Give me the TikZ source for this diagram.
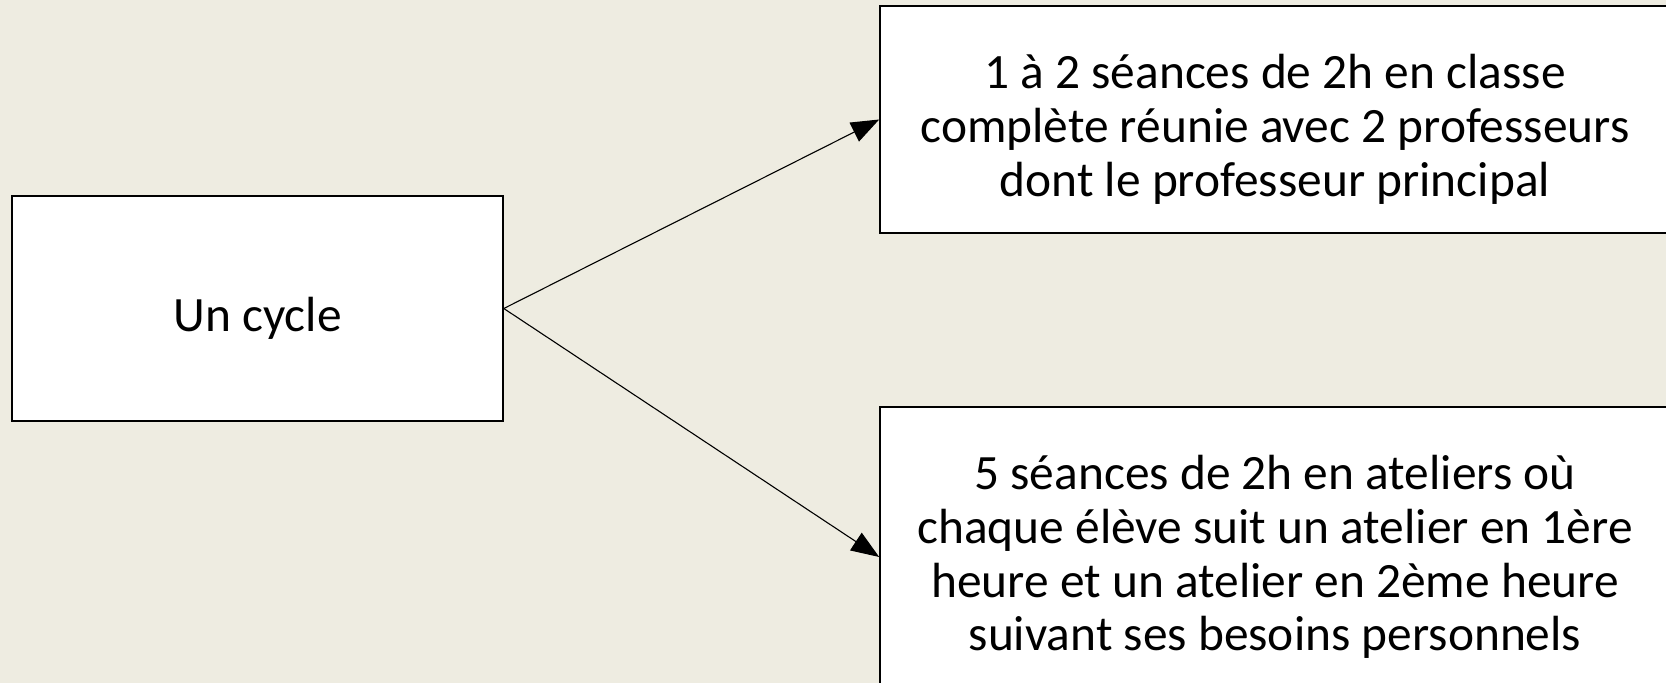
\documentclass[tikz,border=0pt]{standalone}
\usepackage{fontspec}
\setmainfont{Carlito}
\usetikzlibrary{arrows.meta}

\definecolor{slidebg}{RGB}{238,236,225}
% strut that lowers the text block inside its box
\newcommand{\lowerby}[1]{\rule{0pt}{\dimexpr 17pt+#1+#1\relax}}

\tikzset{
  box/.style={draw=black, line width=0.8pt, fill=white, align=center,
    font=\fontsize{24.7}{26.9}\selectfont, inner sep=0pt},
  link/.style={line width=0.55pt, -{Triangle[length=14pt, width=10.5pt]}}
}

\begin{document}
\begin{tikzpicture}[x=0.5pt, y=-0.5pt]
  % Background
  \fill[slidebg] (0,0) rectangle (1666,683);
  \useasboundingbox (0,0) rectangle (1666,683);

  % Boxes
  \node[box, minimum width=245.5pt, minimum height=112.5pt] (cycle) at (257.5,308.5)
    {\lowerby{5pt}Un cycle};
  \node[box, minimum width=395pt, minimum height=113.5pt] (classe) at (1275,119.5)
    {\lowerby{5pt}1 à 2 séances de 2h en classe\\complète réunie avec 2 professeurs\\dont le professeur principal};
  \node[box, minimum width=395pt, minimum height=150pt] (ateliers) at (1275,557)
    {5 séances de 2h en ateliers où\\chaque élève suit un atelier en 1ère\\heure et un atelier en 2ème heure\\suivant ses besoins personnels};

  % Arrows
  \draw[link] (cycle.east) -- (classe.west);
  \draw[link] (cycle.east) -- (ateliers.west);
\end{tikzpicture}
\end{document}
